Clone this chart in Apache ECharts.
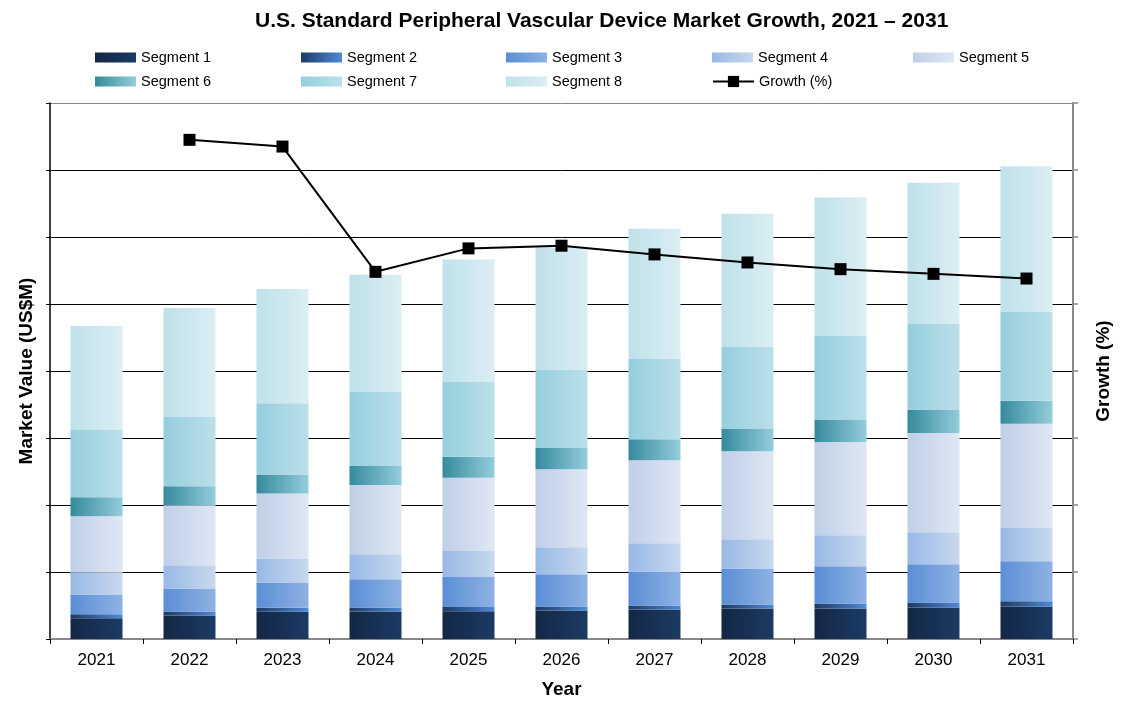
<!DOCTYPE html>
<html>
<head>
<meta charset="utf-8">
<title>U.S. Standard Peripheral Vascular Device Market Growth</title>
<script src="https://cdn.jsdelivr.net/npm/echarts@6/dist/echarts.min.js"></script>
<style>
  html, body { margin: 0; padding: 0; background: #fff; }
  #chart { width: 1128px; height: 709px; }
</style>
</head>
<body>
<div id="chart"></div>
<script>
const years = ['2021', '2022', '2023', '2024', '2025', '2026', '2027', '2028', '2029', '2030', '2031'];

// market value by segment (US$M)
const seg1 = [311, 351, 408, 412, 416, 426, 441, 456, 456, 471, 486];
const seg2 = [60, 60, 60, 60, 60, 60, 60, 60, 75, 75, 79];
const seg3 = [295, 344, 374, 419, 449, 479, 508, 538, 553, 568, 594];
const seg4 = [329, 344, 359, 374, 389, 404, 419, 434, 464, 479, 498];
const seg5 = [837, 897, 972, 1032, 1092, 1166, 1241, 1316, 1391, 1480, 1555];
const seg6 = [284, 284, 284, 284, 314, 314, 314, 329, 329, 344, 344];
const seg7 = [1002, 1032, 1062, 1107, 1122, 1166, 1196, 1226, 1256, 1286, 1331];
const seg8 = [1555, 1630, 1705, 1750, 1824, 1829, 1944, 1989, 2064, 2108, 2168];

const growth = [null, 7.45, 7.35, 5.48, 5.83, 5.87, 5.74, 5.62, 5.52, 5.45, 5.38];

const segments = [
  { name: 'Segment 1', data: seg1, from: '#132745', to: '#1b3b64' },
  { name: 'Segment 2', data: seg2, from: '#1e3a66', to: '#4f8ad6' },
  { name: 'Segment 3', data: seg3, from: '#5a8ed5', to: '#8fb2e4' },
  { name: 'Segment 4', data: seg4, from: '#98b9e5', to: '#c8d8ef' },
  { name: 'Segment 5', data: seg5, from: '#bfcfe8', to: '#dfe7f3' },
  { name: 'Segment 6', data: seg6, from: '#358a9c', to: '#94cddc' },
  { name: 'Segment 7', data: seg7, from: '#96cede', to: '#bbe0e9' },
  { name: 'Segment 8', data: seg8, from: '#bee1ea', to: '#dceef3' }
];

const font = '"Liberation Sans", Arial, sans-serif';

let seriesData = segments.map((item) => {
  return {
    name: item.name,
    type: 'bar',
    stack: 'total',
    barWidth: 52,
    data: item.data,
    itemStyle: {
      color: new echarts.graphic.LinearGradient(0, 0, 1, 0, [
        { offset: 0, color: item.from },
        { offset: 1, color: item.to }
      ])
    }
  }
});

seriesData.push({
  name: 'Growth (%)',
  type: 'line',
  yAxisIndex: 1,
  data: growth,
  symbol: 'rect',
  symbolSize: 12,
  itemStyle: { color: '#000' },
  lineStyle: { color: '#000', width: 2 },
  z: 10
});

// legend slots: [name, left, top]
const legendSlots = [
  ['Segment 1', 95, 50], ['Segment 2', 301, 50], ['Segment 3', 506, 50], ['Segment 4', 712, 50], ['Segment 5', 913, 50],
  ['Segment 6', 95, 74], ['Segment 7', 301, 74], ['Segment 8', 506, 74], ['Growth (%)', 712, 74]
];

const legends = legendSlots.map(([name, left, top]) => {
  const isLine = name === 'Growth (%)';
  return {
    data: [name],
    left: left,
    top: top,
    padding: 0,
    icon: isLine ? undefined : 'rect',
    itemWidth: 41,
    itemHeight: isLine ? 14 : 10,
    textStyle: { color: '#000', fontSize: 14.5, fontFamily: font }
  }
});

const chart = echarts.init(document.getElementById('chart'));
chart.setOption({
  animation: false,
  textStyle: { fontFamily: font },
  title: {
    text: 'U.S. Standard Peripheral Vascular Device Market Growth, 2021 \u2013 2031',
    left: 255,
    top: 11,
    padding: 0,
    textStyle: { fontSize: 21, fontWeight: 'bold', color: '#000', fontFamily: font }
  },
  legend: legends,
  grid: {
    left: 50,
    right: 55,
    top: 103,
    bottom: 70
  },
  xAxis: {
    type: 'category',
    data: years,
    name: 'Year',
    nameLocation: 'middle',
    nameGap: 41,
    nameTextStyle: { fontSize: 19, fontWeight: 'bold', color: '#000' },
    axisLine: { show: true, lineStyle: { color: '#888', width: 2 } },
    axisTick: { show: true, length: 5, lineStyle: { color: '#000' } },
    axisLabel: { fontSize: 17, color: '#000', margin: 13 }
  },
  yAxis: [
    {
      type: 'value',
      min: 0,
      max: 8000,
      interval: 1000,
      name: 'Market Value (US$M)',
      nameLocation: 'middle',
      nameGap: 14,
      nameTextStyle: { fontSize: 19, fontWeight: 'bold', color: '#000' },
      axisLine: { show: true, lineStyle: { color: '#000', width: 1.5 } },
      axisTick: { show: true, length: 4, lineStyle: { color: '#000' } },
      axisLabel: { show: false },
      splitLine: {
        show: true,
        lineStyle: {
          color: ['#000', '#000', '#000', '#000', '#000', '#000', '#000', '#000', '#888'],
          width: 1
        }
      }
    },
    {
      type: 'value',
      position: 'right',
      min: 0,
      max: 8,
      interval: 1,
      name: 'Growth (%)',
      nameLocation: 'middle',
      nameGap: 21,
      nameTextStyle: { fontSize: 19, fontWeight: 'bold', color: '#000' },
      axisLine: { show: true, lineStyle: { color: '#888', width: 2 } },
      axisTick: { show: true, length: 5, lineStyle: { color: '#888', width: 1.5 } },
      axisLabel: { show: false },
      splitLine: { show: false }
    }
  ],
  series: seriesData
});
</script>
</body>
</html>
